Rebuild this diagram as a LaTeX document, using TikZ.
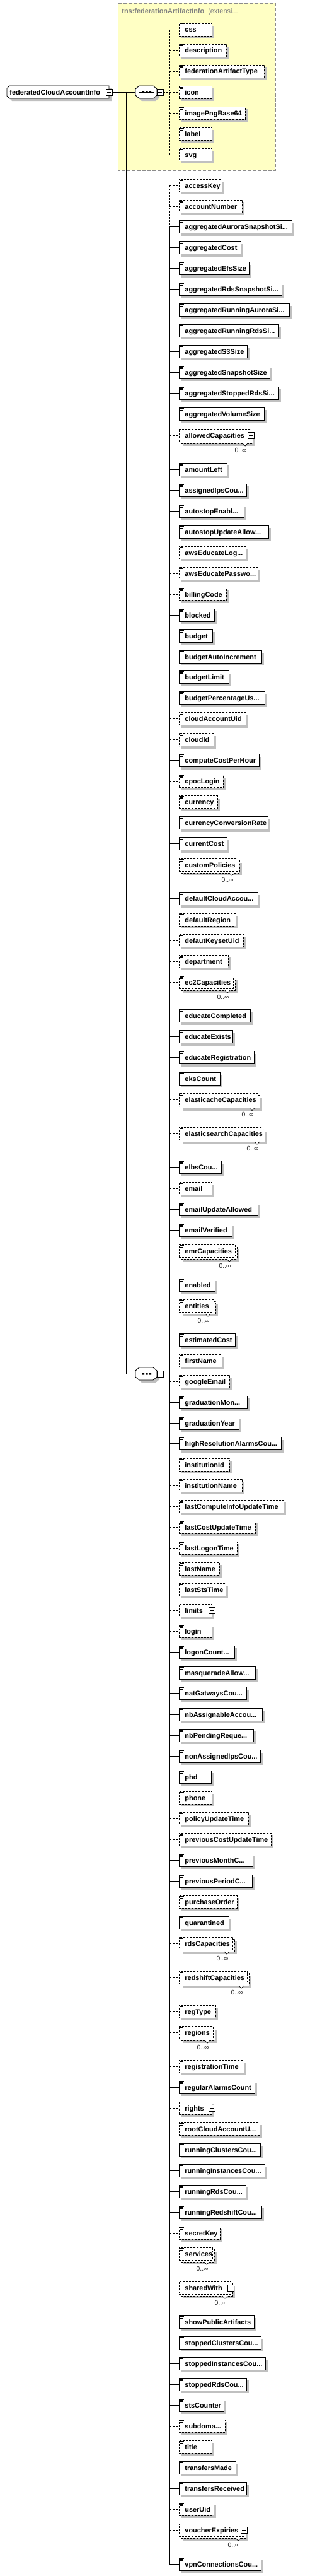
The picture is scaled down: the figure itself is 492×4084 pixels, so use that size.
\documentclass[tikz,border=0pt]{standalone}
\usepackage{fontspec}
\setmainfont{Liberation Sans}
\usepackage{tikz}
\usetikzlibrary{
    positioning,
    calc
}
\definecolor{shadowGray}{RGB}{192, 192, 192}
\definecolor{extYellow}{RGB}{255, 255, 196}
\definecolor{extBorder}{RGB}{140, 140, 140}
\definecolor{titleGray}{RGB}{128, 128, 128}

% small "text content" mark in the upper left corner of a box
\newcommand{\docMark}[1]{%
  \draw[solid, line width=0.6pt] (286,#1-9.2) -- ++(6,0) (286,#1-7.6) -- ++(5,0) (286,#1-6) -- ++(5,0);}

% simple element: style, name, y, right edge, text
\newcommand{\simpleElem}[5]{%
  \fill[shadowGray] (288,#3-6) rectangle (#4+4,#3+14);
  \node[elembox, #1, minimum width={(#4-284)*1pt}] (#2) at (284,#3) {};
  \docMark{#3}
  \node[elemtext] (#2-t) at (293,#3+4) {#5};
  \draw[#1] (spine |- #2.west) -- (#2.west);}

% repeated simple element (0..oo): name, y, right edge of back frame, text
\newcommand{\multiElem}[4]{%
  \fill[shadowGray] (291,#2-3) rectangle (#3+4,#2+17);
  \filldraw[fill=white, optEl] (287,#2-7) rectangle (#3,#2+13);
  \node[elembox, optEl, minimum width={(#3-287)*1pt}] (#1) at (284,#2) {};
  \filldraw[fill=white, solid, line width=0.7pt] (#3-16,#2+13) -- (#3-12,#2+17) -- (#3-8,#2+13);
  \docMark{#2}
  \node[elemtext] (#1-t) at (293,#2+4) {#4};
  \node[multtext] (#1-m) at (#3-9,#2+27) {0..∞};
  \draw[optEl] (spine |- #1.west) -- (#1.west);}

% complex element with a plus button: name, y, right edge, text
\newcommand{\complexElem}[4]{%
  \fill[shadowGray] (288,#2-6) rectangle (#3+4,#2+14);
  \node[elembox, optEl, minimum width={(#3-284)*1pt}] (#1) at (284,#2) {};
  \node[elemtext] (#1-t) at (293,#2+4) {#4};
  \node[btn] (#1-b) at (#3,#2) {};
  \draw[solid, line width=0.8pt] ($(#1-b)+(-3,0)$) -- ++(6,0) ($(#1-b)+(0,-3)$) -- ++(0,6);
  \draw[optEl] (spine |- #1.west) -- (#1.west);}

% repeated complex element: name, y, right edge of back frame, text
\newcommand{\complexMulti}[4]{%
  \fill[shadowGray] (291,#2-3) rectangle (#3+4,#2+17);
  \filldraw[fill=white, optEl] (287,#2-7) rectangle (#3,#2+13);
  \node[elembox, optEl, minimum width={(#3-287)*1pt}] (#1) at (284,#2) {};
  \filldraw[fill=white, solid, line width=0.7pt] (#3-16,#2+13) -- (#3-12,#2+17) -- (#3-8,#2+13);
  \node[elemtext] (#1-t) at (293,#2+4) {#4};
  \node[btn] (#1-b) at (#3-3,#2) {};
  \draw[solid, line width=0.8pt] ($(#1-b)+(-3,0)$) -- ++(6,0) ($(#1-b)+(0,-3)$) -- ++(0,6);
  \node[multtext] (#1-m) at (#3-9,#2+27) {0..∞};
  \draw[optEl] (spine |- #1.west) -- (#1.west);}

% sequence compositor: name, y
\newcommand{\seqOct}[2]{%
  \fill[shadowGray] (225,#2-6) -- (247,#2-6) -- (253,#2-1) -- (253,#2+9) -- (247,#2+14) -- (225,#2+14) -- (219,#2+9) -- (219,#2-1) -- cycle;
  \filldraw[fill=white] (221,#2-10) -- (243,#2-10) -- (249,#2-5) -- (249,#2+5) -- (243,#2+10) -- (221,#2+10) -- (215,#2+5) -- (215,#2-5) -- cycle;
  \node[seqhit] (#1) at (232,#2) {};
  \draw[line width=0.8pt] (220,#2) -- (244,#2);
  \fill (225.5,#2-1.5) rectangle ++(3.5,3) (231,#2-1.5) rectangle ++(3.5,3) (236.5,#2-1.5) rectangle ++(3.5,3);
  \node[btn] (#1-btn) at (254,#2) {};
  \draw[line width=0.8pt] ($(#1-btn)+(-3,0)$) -- ++(6,0);}

\begin{document}
\begin{tikzpicture}[x=1pt, y=-1pt, line width=0.9pt,
    optEl/.style={dash pattern=on 3pt off 2pt},
    reqEl/.style={solid},
    elembox/.style={draw, fill=white, anchor=west, inner sep=0pt, minimum height=20pt},
    elemtext/.style={anchor=base west, inner sep=0pt, font=\bfseries\fontsize{10.9}{12}\selectfont},
    multtext/.style={anchor=base east, inner sep=0pt, text=black!85, font=\fontsize{10.4}{12}\selectfont},
    btn/.style={draw, fill=white, solid, line width=0.8pt, minimum size=10pt, inner sep=0pt},
    seqhit/.style={minimum width=34pt, minimum height=20pt, inner sep=0pt}]
    \useasboundingbox (0,0) rectangle (492,4084);
    \coordinate (spine) at (269,0);

    % extension base type
    \filldraw[fill=extYellow, draw=extBorder, dash pattern=on 5pt off 3pt] (187,5) rectangle (437,270);
    \node[anchor=base west, inner sep=0pt, text=titleGray, font=\fontsize{10.9}{12}\selectfont]
        (ext-title) at (193,22) {\textbf{tns:federationArtifactInfo}\ \ (extensi...};

    % root element
    \fill[shadowGray] (19,140) -- (177,140) -- (177,160) -- (19,160) -- (15,156) -- (15,144) -- cycle;
    \filldraw[fill=white] (15,136) -- (173,136) -- (173,156) -- (15,156) -- (11,152) -- (11,140) -- cycle;
    \node[minimum width=162pt, minimum height=20pt, inner sep=0pt] (root) at (92,146) {};
    \node[elemtext] (root-t) at (15,150) {federatedCloudAccountInfo};
    \node[btn] (root-btn) at (173,146) {};
    \draw[line width=0.8pt] ($(root-btn)+(-3,0)$) -- ++(6,0);

    % compositors
    \seqOct{seqA}{146}
    \seqOct{seqB}{2178}

    % inherited children
    \simpleElem{optEl}{css}{47}{336}{css}
    \simpleElem{optEl}{description}{80}{359}{description}
    \simpleElem{optEl}{fedType}{113}{419}{federationArtifactType}
    \simpleElem{optEl}{icon}{146}{336}{icon}
    \simpleElem{optEl}{imagePng}{179}{389}{imagePngBase64}
    \simpleElem{optEl}{label}{212}{336}{label}
    \simpleElem{optEl}{svg}{245}{336}{svg}

    % own children
    \simpleElem{optEl}{accessKey}{294}{352}{accessKey}
    \simpleElem{optEl}{accountNumber}{327}{384}{accountNumber}
    \simpleElem{reqEl}{aggAurora}{359.5}{463}{aggregatedAuroraSnapshotSi...}
    \simpleElem{reqEl}{aggCost}{392.5}{382}{aggregatedCost}
    \simpleElem{reqEl}{aggEfs}{425.5}{395}{aggregatedEfsSize}
    \simpleElem{reqEl}{aggRdsSnap}{458}{447}{aggregatedRdsSnapshotSi...}
    \simpleElem{reqEl}{aggRunAurora}{491}{459}{aggregatedRunningAuroraSi...}
    \simpleElem{reqEl}{aggRunRds}{524}{442}{aggregatedRunningRdsSi...}
    \simpleElem{reqEl}{aggS3}{557}{392}{aggregatedS3Size}
    \simpleElem{reqEl}{aggSnap}{590}{428}{aggregatedSnapshotSize}
    \simpleElem{reqEl}{aggStopRds}{623}{442}{aggregatedStoppedRdsSi...}
    \simpleElem{reqEl}{aggVolume}{656}{419}{aggregatedVolumeSize}
    \complexMulti{allowedCap}{690}{401}{allowedCapacities}
    \simpleElem{reqEl}{amountLeft}{744}{360}{amountLeft}
    \simpleElem{reqEl}{assignedIps}{777}{391}{assignedIpsCou...}
    \simpleElem{reqEl}{autostopEn}{810}{387}{autostopEnabl...}
    \simpleElem{reqEl}{autostopUpd}{843}{426}{autostopUpdateAllow...}
    \simpleElem{optEl}{awsLogin}{876}{390}{awsEducateLog...}
    \simpleElem{optEl}{awsPass}{909}{409}{awsEducatePasswo...}
    \simpleElem{optEl}{billingCode}{942}{359}{billingCode}
    \simpleElem{reqEl}{blocked}{975}{340}{blocked}
    \simpleElem{reqEl}{budget}{1008}{337}{budget}
    \simpleElem{reqEl}{budgetAuto}{1041}{415}{budgetAutoIncrement}
    \simpleElem{reqEl}{budgetLimit}{1073.5}{363}{budgetLimit}
    \simpleElem{reqEl}{budgetPct}{1106.5}{420}{budgetPercentageUs...}
    \simpleElem{optEl}{cloudAccUid}{1139.5}{390}{cloudAccountUid}
    \simpleElem{optEl}{cloudId}{1172.5}{339}{cloudId}
    \simpleElem{reqEl}{computeCost}{1205.5}{411}{computeCostPerHour}
    \simpleElem{optEl}{cpocLogin}{1238.5}{354}{cpocLogin}
    \simpleElem{optEl}{currency}{1271.5}{345}{currency}
    \simpleElem{reqEl}{currRate}{1304.5}{425}{currencyConversionRate}
    \simpleElem{reqEl}{currentCost}{1337.5}{360}{currentCost}
    \multiElem{customPol}{1371}{380}{customPolicies}
    \simpleElem{reqEl}{defCloudAcc}{1424.5}{409}{defaultCloudAccou...}
    \simpleElem{optEl}{defRegion}{1458}{374}{defaultRegion}
    \simpleElem{optEl}{defKeyset}{1491}{386}{defautKeysetUid}
    \simpleElem{optEl}{department}{1524}{362}{department}
    \multiElem{ec2Cap}{1557}{373}{ec2Capacities}
    \simpleElem{reqEl}{eduCompleted}{1610.5}{397}{educateCompleted}
    \simpleElem{reqEl}{eduExists}{1643.5}{369}{educateExists}
    \simpleElem{reqEl}{eduReg}{1676.5}{403}{educateRegistration}
    \simpleElem{reqEl}{eksCount}{1710}{349}{eksCount}
    \multiElem{cacheCap}{1743.5}{412}{elasticacheCapacities}
    \multiElem{searchCap}{1797}{420}{elasticsearchCapacities}
    \simpleElem{reqEl}{elbsCount}{1850.5}{351}{elbsCou...}
    \simpleElem{optEl}{email}{1884}{336}{email}
    \simpleElem{reqEl}{emailUpd}{1917}{409}{emailUpdateAllowed}
    \simpleElem{reqEl}{emailVer}{1950}{368}{emailVerified}
    \multiElem{emrCap}{1983}{376}{emrCapacities}
    \simpleElem{reqEl}{enabled}{2037}{341}{enabled}
    \multiElem{entities}{2070}{342}{entities}
    \simpleElem{reqEl}{estCost}{2124}{373}{estimatedCost}
    \simpleElem{optEl}{firstName}{2157}{352}{firstName}
    \simpleElem{optEl}{googleEmail}{2190}{364}{googleEmail}
    \simpleElem{reqEl}{gradMonth}{2223}{392}{graduationMon...}
    \simpleElem{reqEl}{gradYear}{2256}{379}{graduationYear}
    \simpleElem{reqEl}{hiResAlarms}{2288.5}{446}{highResolutionAlarmsCou...}
    \simpleElem{optEl}{instId}{2322}{364}{institutionId}
    \simpleElem{optEl}{instName}{2355}{384}{institutionName}
    \simpleElem{optEl}{lastCompute}{2388}{450}{lastComputeInfoUpdateTime}
    \simpleElem{optEl}{lastCostUpd}{2421}{405}{lastCostUpdateTime}
    \simpleElem{optEl}{lastLogon}{2454}{376}{lastLogonTime}
    \simpleElem{optEl}{lastName}{2487}{348}{lastName}
    \simpleElem{optEl}{lastSts}{2520}{358}{lastStsTime}
    \complexElem{limits}{2553}{336}{limits}
    \simpleElem{optEl}{login}{2586}{336}{login}
    \simpleElem{reqEl}{logonCount}{2619}{372}{logonCount...}
    \simpleElem{reqEl}{masquerade}{2652}{405}{masqueradeAllow...}
    \simpleElem{reqEl}{natGw}{2684.5}{391}{natGatwaysCou...}
    \simpleElem{reqEl}{nbAssign}{2718}{416}{nbAssignableAccou...}
    \simpleElem{reqEl}{nbPending}{2751}{402}{nbPendingReque...}
    \simpleElem{reqEl}{nonAssigned}{2784.5}{413}{nonAssignedIpsCou...}
    \simpleElem{reqEl}{phd}{2817}{335}{phd}
    \simpleElem{optEl}{phone}{2850}{336}{phone}
    \simpleElem{optEl}{policyUpd}{2883}{394}{policyUpdateTime}
    \simpleElem{optEl}{prevCostUpd}{2916}{430}{previousCostUpdateTime}
    \simpleElem{reqEl}{prevMonth}{2949}{401}{previousMonthC...}
    \simpleElem{reqEl}{prevPeriod}{2982}{400}{previousPeriodC...}
    \simpleElem{optEl}{purchase}{3015}{376}{purchaseOrder}
    \simpleElem{reqEl}{quarantined}{3048}{363}{quarantined}
    \multiElem{rdsCap}{3081}{372}{rdsCapacities}
    \multiElem{redshiftCap}{3135}{395}{redshiftCapacities}
    \simpleElem{optEl}{regType}{3189}{342}{regType}
    \multiElem{regions}{3222}{341}{regions}
    \simpleElem{optEl}{regTime}{3276}{387}{registrationTime}
    \simpleElem{reqEl}{regAlarms}{3309}{404}{regularAlarmsCount}
    \complexElem{rights}{3342}{336}{rights}
    \simpleElem{optEl}{rootAcc}{3375}{412}{rootCloudAccountU...}
    \simpleElem{reqEl}{runClusters}{3408}{413}{runningClustersCou...}
    \simpleElem{reqEl}{runInst}{3441}{420}{runningInstancesCou...}
    \simpleElem{reqEl}{runRds}{3474}{390}{runningRdsCou...}
    \simpleElem{reqEl}{runRedshift}{3507}{415}{runningRedshiftCou...}
    \simpleElem{optEl}{secretKey}{3540}{349}{secretKey}
    \multiElem{services}{3573}{340}{services}
    \complexMulti{sharedWith}{3627}{369}{sharedWith}
    \simpleElem{reqEl}{showPublic}{3681}{403}{showPublicArtifacts}
    \simpleElem{reqEl}{stopClusters}{3714}{414}{stoppedClustersCou...}
    \simpleElem{reqEl}{stopInst}{3747}{421}{stoppedInstancesCou...}
    \simpleElem{reqEl}{stopRds}{3780}{391}{stoppedRdsCou...}
    \simpleElem{reqEl}{stsCounter}{3813}{355}{stsCounter}
    \simpleElem{optEl}{subdomain}{3846}{357}{subdoma...}
    \simpleElem{optEl}{title}{3879}{336}{title}
    \simpleElem{reqEl}{transMade}{3912}{374}{transfersMade}
    \simpleElem{reqEl}{transRecv}{3945}{391}{transfersReceived}
    \simpleElem{optEl}{userUid}{3978}{339}{userUid}
    \complexMulti{vouchers}{4011}{390}{voucherExpiries}
    \simpleElem{reqEl}{vpnConn}{4065}{414}{vpnConnectionsCou...}

    % connectors
    \draw (root-btn.east) -- (seqA.west);
    \draw ($(root-btn.east)!0.6!(seqA.west)$) |- (seqB.west);
    \draw[optEl] (seqA-btn.east) -- (seqA-btn.east -| spine);
    \draw[optEl] (spine |- css.west) -- (spine |- svg.west);
    \draw[reqEl] (seqB-btn.east) -- (seqB-btn.east -| spine);
    \draw[optEl] (spine |- accessKey.west) -- (spine |- aggAurora.west);
    \draw[reqEl] (spine |- aggAurora.west) -- (spine |- vpnConn.west);
\end{tikzpicture}
\end{document}
